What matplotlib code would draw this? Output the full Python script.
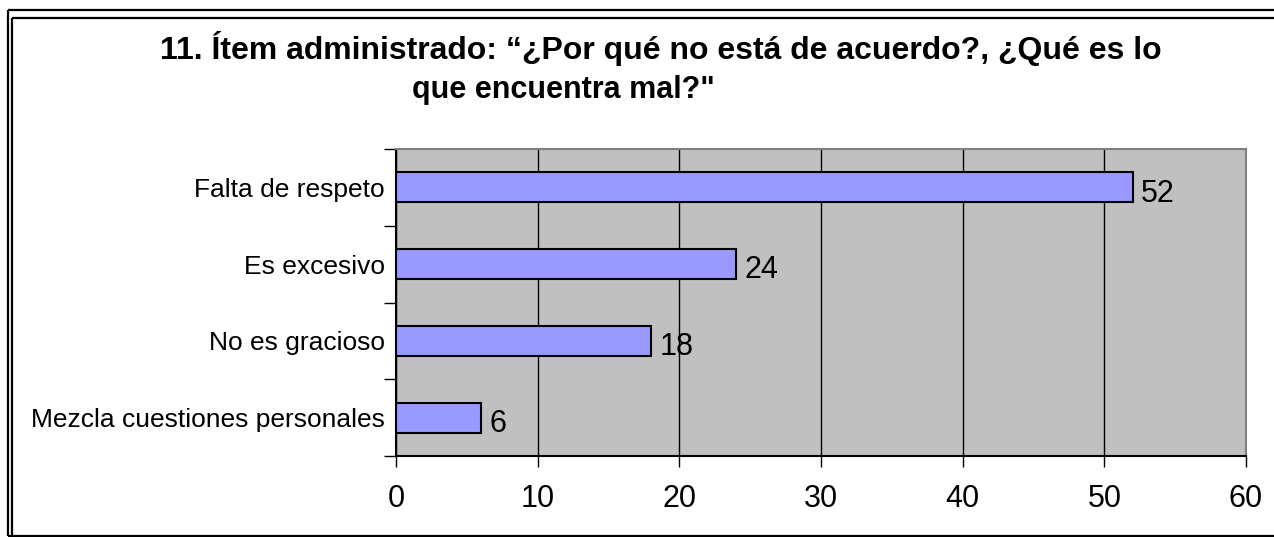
import matplotlib.pyplot as plt
from matplotlib.lines import Line2D

plt.rcParams['font.family'] = ['Liberation Sans', 'DejaVu Sans']

categories = ['Mezcla cuestiones personales', 'No es gracioso', 'Es excesivo', 'Falta de respeto']
values = [6, 18, 24, 52]
xticks = [0, 10, 20, 30, 40, 50, 60]

W, H = 1274, 537
fig = plt.figure(figsize=(W / 100, H / 100), dpi=100)
ax = fig.add_axes([396 / W, 1 - 456 / H, (1246 - 396) / W, (456 - 149) / H])
ax.set_facecolor('#C0C0C0')

ypos = list(range(len(categories)))
ax.barh(ypos, values, height=0.39, color='#9999FF', edgecolor='black', linewidth=1.5, zorder=3)
for y, v in zip(ypos, values):
    ax.text(v + 0.6, y - 0.08, str(v), va='center', ha='left', fontsize=22, zorder=4)

ax.set_xlim(0, 60)
ax.set_ylim(-0.5, len(categories) - 0.5)
ax.set_xticks(xticks)
ax.set_xticklabels([str(t) for t in xticks], fontsize=22)
ax.xaxis.grid(True, color='black', linewidth=1)
ax.set_axisbelow(True)

ax.set_yticks(ypos)
ax.set_yticklabels(categories, fontsize=19)
ax.set_yticks([y - 0.5 for y in range(len(categories) + 1)], minor=True)
ax.tick_params(axis='y', which='major', length=0, pad=8)
ax.tick_params(axis='y', which='minor', length=9, width=1, direction='out')
ax.tick_params(axis='x', length=8, width=1, direction='out', pad=12)

ax.spines['left'].set_color('black')
ax.spines['bottom'].set_color('black')
ax.spines['top'].set_color('#808080')
ax.spines['right'].set_color('#808080')
for s in ax.spines.values():
    s.set_linewidth(1.5)

fig.text(661 / W, 1 - 48 / H, '11. Ítem administrado: “¿Por qué no está de acuerdo?, ¿Qué es lo',
         ha='center', va='center', fontsize=23, fontweight='bold')
fig.text(563 / W, 1 - 90 / H, 'que encuentra mal?"',
         ha='center', va='center', fontsize=22, fontweight='bold')

# double frame around the chart
def px_line(x0, y0, x1, y1):
    fig.add_artist(Line2D([x0 / W, x1 / W], [1 - y0 / H, 1 - y1 / H],
                          transform=fig.transFigure, color='black', linewidth=1.6,
                          solid_capstyle='butt'))

px_line(8, 10, W, 10)
px_line(8, 10, 8, 536)
px_line(12, 18, W, 18)
px_line(12, 18, 12, 536)
px_line(8, 535.5, W, 535.5)

fig.savefig('out.png', dpi=100)
